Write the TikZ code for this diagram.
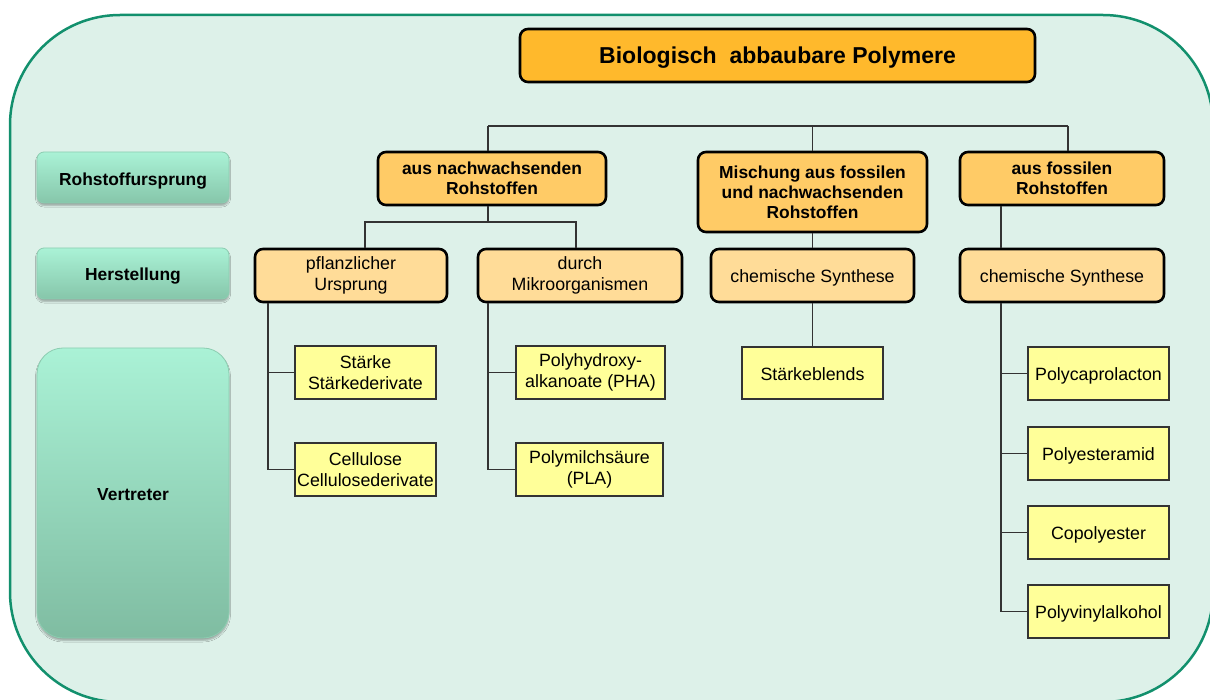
\documentclass[tikz,border=0pt]{standalone}
\usepackage{fontspec}
\setmainfont{Liberation Sans}
\usetikzlibrary{shadows,shadows.blur}

\definecolor{panelfill}{HTML}{DDF1E9}
\definecolor{panelline}{HTML}{12906D}
\definecolor{titlefill}{HTML}{FFB92C}
\definecolor{srcfill}{HTML}{FFCB66}
\definecolor{makefill}{HTML}{FFDC98}
\definecolor{itemfill}{HTML}{FFFF99}
\definecolor{linegray}{HTML}{333333}
\definecolor{btntop}{HTML}{AAF2D6}
\definecolor{btnbot}{HTML}{86C6AA}
\definecolor{btnline}{HTML}{8CCDB1}

% lower a one-line label without changing the space it claims
\newcommand{\lowertext}[2][2.5pt]{\raisebox{-#1}[\height][\depth]{#2}}

\tikzset{
  boldtxt/.style={font=\bfseries\fontsize{17.4}{20}\selectfont},
  normtxt/.style={font=\fontsize{17.8}{21}\selectfont},
  titlebox/.style={draw=black, line width=2.6pt, rounded corners=8pt, fill=titlefill,
    font=\bfseries\fontsize{23}{27}\selectfont, inner sep=0pt},
  srcbox/.style={draw=black, line width=2.6pt, rounded corners=8pt, fill=srcfill,
    boldtxt, align=center, inner sep=0pt},
  makebox/.style={draw=black, line width=2.6pt, rounded corners=8pt, fill=makefill,
    normtxt, align=center, inner sep=0pt},
  itembox/.style={draw=linegray, line width=1.4pt, fill=itemfill,
    normtxt, align=center, inner sep=0pt},
  sidebtn/.style={draw=btnline, line width=0.8pt, top color=btntop, bottom color=btnbot,
    boldtxt, align=center, inner sep=0pt,
    blur shadow={shadow xshift=0pt, shadow yshift=-2.5pt, shadow opacity=30,
      shadow blur steps=5, shadow blur radius=1.5pt}},
  conn/.style={draw=linegray, line width=1.4pt},
}

\begin{document}
\begin{tikzpicture}[x=1pt, y=-1pt]
\useasboundingbox (0,0) rectangle (1210,700);

% background panel
\draw[panelline, fill=panelfill, line width=2.5pt, rounded corners=110pt]
  (10,15) rectangle (1213,702);

% row labels on the left
\node[sidebtn, rounded corners=7pt, minimum width=192pt, minimum height=51pt]
  (rowsrc) at (133,177.5) {\lowertext[3.5pt]{Rohstoffursprung}};
\node[sidebtn, rounded corners=7pt, minimum width=192pt, minimum height=51pt]
  (rowmake) at (133,273.5) {\lowertext[3pt]{Herstellung}};
\node[sidebtn, rounded corners=26pt, minimum width=192pt, minimum height=290pt,
  bottom color=btnbot!95!black]
  (rowitem) at (133,493) {\lowertext[2pt]{Vertreter}};

% title
\node[titlebox, minimum width=515pt, minimum height=53pt]
  (title) at (777.5,55.5) {\lowertext[2.5pt]{Biologisch\ \ abbaubare Polymere}};

% raw material origin
\node[srcbox, minimum width=228pt, minimum height=53pt]
  (n1) at (492,178.5) {aus nachwachsenden\\Rohstoffen};
\node[srcbox, minimum width=229pt, minimum height=80pt]
  (n2) at (812.5,192) {Mischung aus fossilen\\und nachwachsenden\\Rohstoffen};
\node[srcbox, minimum width=204pt, minimum height=53pt]
  (n3) at (1062,178.5) {aus fossilen\\Rohstoffen};

% production route
\node[makebox, minimum width=192pt, minimum height=53pt]
  (h1) at (351,275.5) {pflanzlicher\\Ursprung};
\node[makebox, minimum width=204pt, minimum height=53pt]
  (h2) at (580,275.5) {durch\\Mikroorganismen};
\node[makebox, minimum width=203pt, minimum height=53pt]
  (h3) at (812.5,275.5) {\lowertext{chemische Synthese}};
\node[makebox, minimum width=204pt, minimum height=53pt]
  (h4) at (1062,275.5) {\lowertext{chemische Synthese}};

% representatives
\node[itembox, minimum width=141pt, minimum height=53pt]
  (v1) at (365.5,372.5) {Stärke\\Stärkederivate};
\node[itembox, minimum width=141pt, minimum height=53pt]
  (v2) at (365.5,469.5) {Cellulose\\Cellulosederivate};
\node[itembox, minimum width=149pt, minimum height=53pt]
  (v3) at (590.5,372.5) {Polyhydroxy-\\alkanoate (PHA)};
\node[itembox, minimum width=147pt, minimum height=53pt]
  (v4) at (589.5,469.5) {Polymilchsäure\\(PLA)};
\node[itembox, minimum width=141pt, minimum height=52pt]
  (v5) at (812.5,373) {\lowertext[1pt]{Stärkeblends}};
\node[itembox, minimum width=141pt, minimum height=53pt]
  (v6) at (1098.5,373.5) {\lowertext[2pt]{Polycaprolacton}};
\node[itembox, minimum width=141pt, minimum height=53pt]
  (v7) at (1098.5,453.5) {\lowertext[2pt]{Polyesteramid}};
\node[itembox, minimum width=141pt, minimum height=53pt]
  (v8) at (1098.5,532.5) {\lowertext[2pt]{Copolyester}};
\node[itembox, minimum width=141pt, minimum height=53pt]
  (v9) at (1098.5,611.5) {\lowertext[2pt]{Polyvinylalkohol}};

% top distribution bar
\coordinate (barL) at (488,126);
\coordinate (barR) at (1068,126);
\draw[conn] (barL) -- (barR);
\draw[conn] (barL) -- (barL |- n1.north);
\draw[conn] (n2.north |- barL) -- (n2.north);
\draw[conn] (barR) -- (barR |- n3.north);

% renewable branch
\coordinate (fork) at (488,222);
\coordinate (forkL) at (365,222);
\coordinate (forkR) at (576,222);
\draw[conn] (fork |- n1.south) -- (fork);
\draw[conn] (forkL |- h1.north) -- (forkL) -- (forkR) -- (forkR |- h2.north);

% mixed branch
\draw[conn] (n2.south) -- (h3.north);
\draw[conn] (h3.south) -- (v5.north);

% plant-based spine
\coordinate (spA) at (268,0);
\draw[conn] (spA |- h1.south) |- (v2.west);
\draw[conn] (spA |- v1.west) -- (v1.west);

% microbial spine
\coordinate (spB) at (488,0);
\draw[conn] (spB |- h2.south) |- (v4.west);
\draw[conn] (spB |- v3.west) -- (v3.west);

% fossil spine
\coordinate (spC) at (1001,0);
\draw[conn] (spC |- n3.south) -- (spC |- h4.north);
\draw[conn] (spC |- h4.south) |- (v9.west);
\draw[conn] (spC |- v6.west) -- (v6.west);
\draw[conn] (spC |- v7.west) -- (v7.west);
\draw[conn] (spC |- v8.west) -- (v8.west);
\end{tikzpicture}
\end{document}
